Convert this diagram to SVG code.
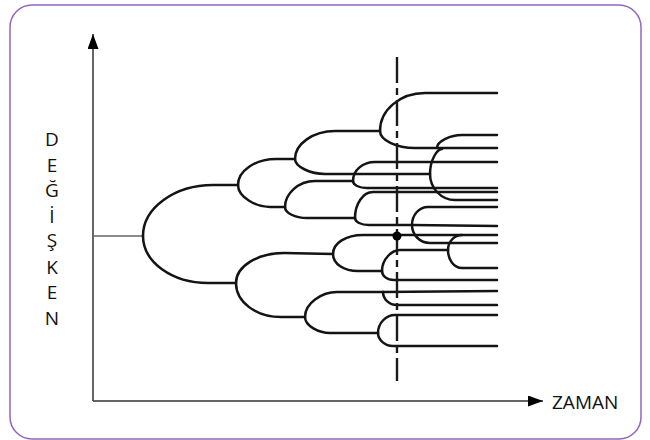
<svg xmlns="http://www.w3.org/2000/svg" width="650" height="440" viewBox="0 0 650 440">
<defs>
<style>
.frame{fill:#ffffff;stroke:#9166c0;stroke-width:1.5}
.axis{fill:none;stroke:#333;stroke-width:1.5}
.stem{fill:none;stroke:#666;stroke-width:1.5}
.br{fill:none;stroke:#141414;stroke-width:2.5;stroke-linecap:round;stroke-linejoin:round}
.cut{fill:none;stroke:#1a1a1a;stroke-width:2.4;stroke-dasharray:26 5 7 5}
.lbl{font-family:"Open Sans","Noto Sans","DejaVu Sans",sans-serif;font-size:19px;fill:#111}
</style>
<marker id="arr" viewBox="0 0 15 11" refX="15" refY="5.5" markerWidth="15" markerHeight="11" markerUnits="userSpaceOnUse" orient="auto">
<path d="M0,0 L15,5.5 L0,11 Z" fill="#000"/>
</marker>
</defs>
<rect class="frame" x="10" y="5" width="631" height="434" rx="22" ry="22"/>
<g id="axes">
<path class="axis" d="M93,401 L93,34" marker-end="url(#arr)"/>
<path class="axis" d="M93,401 L543,401" marker-end="url(#arr)"/>
</g>
<g id="labels">
<g class="lbl" text-anchor="middle">
<text x="52" y="146">D</text>
<text x="52" y="171.6">E</text>
<text x="52" y="197.1">Ğ</text>
<text x="52" y="222.7">İ</text>
<text x="52" y="247">Ş</text>
<text x="52" y="273.9">K</text>
<text x="52" y="299.4">E</text>
<text x="52" y="325">N</text>
</g>
<text class="lbl" x="552" y="409">ZAMAN</text>
</g>
<g id="tree">
<path class="stem" d="M93,236 L143,236"/>
<path class="br" d="M143,236 C143,208 174.5,185 213,185 L238,185"/>
<path class="br" d="M143,236 C143,262 172,283 208,283 L236,283"/>
<path class="br" d="M238,185 C238,171 255,159 276,159 L295,159"/>
<path class="br" d="M238,185 C238,197 256,207 270,207 L285,207"/>
<path class="br" d="M295,159 C295,144 313,131 335,131 L380,131"/>
<path class="br" d="M295,159 C295,167 311,174 325,174 L430,174"/>
<path class="br" d="M380,131 C380,110 400,93 425,93 L497,93"/>
<path class="br" d="M380,131 C380,140 396,148 415,148 L497,148"/>
<path class="br" d="M437,148 C437,141 451,135 462,135 L497,135"/>
<path class="br" d="M430,174 C430,160 437,149 442,149"/>
<path class="br" d="M430,174 C430,188 441,200 455,200 L497,200"/>
<path class="br" d="M285,207 C285,194 298,181 315,181 L353,181"/>
<path class="br" d="M285,207 C285,213 295,218 307,218 L355,218"/>
<path class="br" d="M353,181 C353,170 363,162 375,162 L497,162"/>
<path class="br" d="M353,181 C353,185 359,188 367,188 L497,188"/>
<path class="br" d="M355,218 C355,204 363,192 373,192 L497,192"/>
<path class="br" d="M355,218 C355,222 361,225 369,225 L412,225"/>
<path class="br" d="M412,225 C412,215 419,207 428,207 L497,207"/>
<path class="br" d="M412,225 L497,226"/>
<path class="br" d="M412,225 C412,235 420,243 430,243 L497,243"/>
<path class="br" d="M236,283 C236,266 258,253 284,253 L333,254"/>
<path class="br" d="M236,283 C236,302 256,317 281,317 L305,317"/>
<path class="br" d="M333,254 C333,243 346,235 363,235 L497,235"/>
<path class="br" d="M333,254 C333,264 344,271 358,271 L382,271"/>
<path class="br" d="M382,271 C382,259 392,250 400,250 L448,250"/>
<path class="br" d="M382,271 C382,276 387,280 394,280 L497,280"/>
<path class="br" d="M448,250 C448,242 454,235 462,235"/>
<path class="br" d="M448,250 C448,260 454,268 462,268 L497,268"/>
<path class="br" d="M305,317 C305,303 322,292 337,292 L383,292"/>
<path class="br" d="M305,317 C305,326 319,333 330,333 L378,333"/>
<path class="br" d="M383,292 L497,291"/>
<path class="br" d="M383,292 C383,299 389,305 397,305 L497,305"/>
<path class="br" d="M378,333 C378,323 386,315 395,315 L497,315"/>
<path class="br" d="M378,333 C378,340 385,346 393,346 L497,346"/>
</g>
<g id="time-cut">
<path class="cut" d="M397,57 L397,381"/>
<circle cx="397" cy="236" r="4.5" fill="#000"/>
</g>
</svg>
